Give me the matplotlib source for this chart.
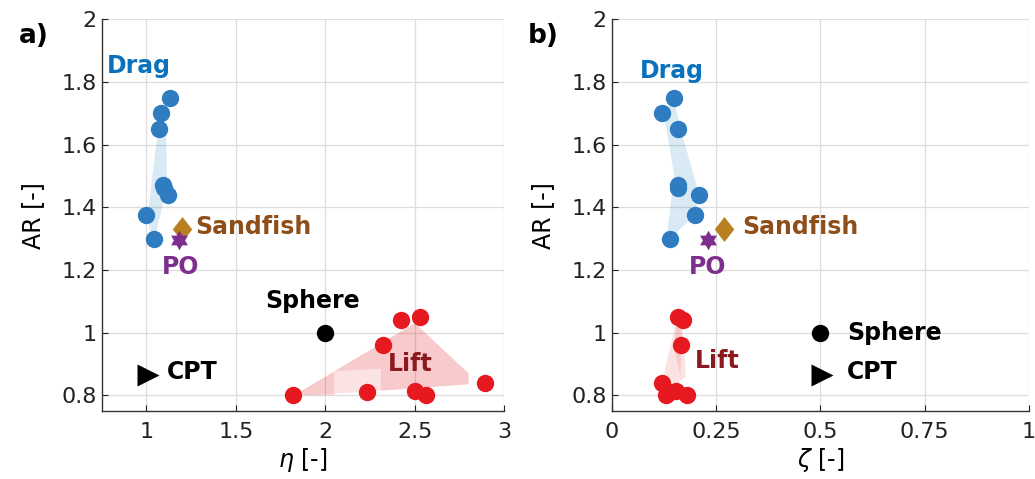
import numpy as np
import matplotlib
matplotlib.use("Agg")
import matplotlib.pyplot as plt
from matplotlib.patches import Polygon

# aspect ratio (shared y)
drag_ar = [1.75, 1.70, 1.65, 1.47, 1.46, 1.44, 1.375, 1.30]
drag_eta = [1.13, 1.08, 1.07, 1.09, 1.10, 1.12, 1.00, 1.04]
drag_zeta = [0.15, 0.12, 0.16, 0.16, 0.16, 0.21, 0.20, 0.14]

lift_ar = [0.80, 0.81, 0.96, 1.04, 1.05, 0.815, 0.80, 0.84]
lift_eta = [1.82, 2.23, 2.32, 2.42, 2.53, 2.50, 2.56, 2.89]
lift_zeta = [0.13, 0.14, 0.165, 0.17, 0.16, 0.155, 0.18, 0.12]

sandfish = {"eta": 1.20, "zeta": 0.27, "ar": 1.33}
po = {"eta": 1.18, "zeta": 0.23, "ar": 1.295}
sphere = {"eta": 2.0, "zeta": 0.5, "ar": 1.0}
cpt = {"eta": 1.01, "zeta": 0.505, "ar": 0.865}

# shaded regions (data coords)
drag_shade_eta = [(1.06, 1.63), (1.11, 1.63), (1.115, 1.48), (1.08, 1.38),
                  (1.05, 1.31), (1.02, 1.31), (1.01, 1.39)]
drag_shade_zeta = [(0.125, 1.70), (0.15, 1.74), (0.165, 1.65), (0.21, 1.44),
                   (0.20, 1.375), (0.14, 1.30), (0.133, 1.32), (0.15, 1.50)]
lift_shade_eta_a = [(1.84, 0.805), (2.50, 1.03), (2.80, 0.87), (2.80, 0.835),
                    (2.32, 0.815), (1.90, 0.80)]
lift_shade_eta_b = [(1.84, 0.805), (2.50, 1.03), (2.80, 0.87), (2.80, 0.835),
                    (2.31, 0.815), (2.31, 0.885), (2.05, 0.877), (2.05, 0.80),
                    (1.90, 0.80)]
lift_shade_zeta_a = [(0.155, 1.035), (0.168, 1.035), (0.178, 0.86),
                     (0.15, 0.83), (0.122, 0.85)]
lift_shade_zeta_b = [(0.155, 1.035), (0.168, 1.035), (0.165, 0.86),
                     (0.15, 0.95)]

yticks = [0.8, 1.0, 1.2, 1.4, 1.6, 1.8, 2.0]
ytick_labels = ["0.8", "1", "1.2", "1.4", "1.6", "1.8", "2"]
eta_ticks = [1, 1.5, 2, 2.5, 3]
eta_labels = ["1", "1.5", "2", "2.5", "3"]
zeta_ticks = [0, 0.25, 0.5, 0.75, 1]
zeta_labels = ["0", "0.25", "0.5", "0.75", "1"]

BLUE = "#2F7DC0"
BLUE_TXT = "#0A72BD"
RED = "#E5191F"
RED_TXT = "#8B1A1E"
SAND = "#B8801F"
SAND_TXT = "#8E4E18"
PURPLE = "#7E2F8E"

diamond = [(0, 1), (0.78, 0), (0, -1), (-0.78, 0), (0, 1)]
ang = np.deg2rad(90 + 30 * np.arange(12))
rad = np.where(np.arange(12) % 2 == 0, 1.0, 0.577)
hexagram = list(zip(rad * np.cos(ang), rad * np.sin(ang)))

fig = plt.figure(figsize=(10.35, 4.79), dpi=100)
ax1 = fig.add_axes([0.0983, 0.142, 0.389, 0.818])
ax2 = fig.add_axes([0.591, 0.142, 0.403, 0.818])


def style(ax, xlim, xt, xl, xlabel):
    ax.set_xlim(*xlim)
    ax.set_ylim(0.75, 2.0)
    ax.set_xticks(xt)
    ax.set_xticklabels(xl)
    ax.set_yticks(yticks)
    ax.set_yticklabels(ytick_labels)
    ax.tick_params(direction="in", length=4, labelsize=16, colors="#222222")
    ax.tick_params(axis="x", pad=8)
    ax.grid(True, color="#dddddd", lw=0.9)
    ax.set_axisbelow(True)
    for s in ["top", "right"]:
        ax.spines[s].set_visible(False)
    for s in ["left", "bottom"]:
        ax.spines[s].set_color("#333333")
        ax.spines[s].set_linewidth(1.0)
    ax.set_ylabel("AR [-]", fontsize=17, labelpad=12)
    ax.set_xlabel(xlabel, fontsize=17, labelpad=3)


def draw(ax, key, drag_x, lift_x, dshade, lshade_a, lshade_b):
    ax.add_patch(Polygon(dshade, closed=True, fc="#0072BD", alpha=0.15, ec="none", zorder=1))
    ax.add_patch(Polygon(lshade_a, closed=True, fc=RED, alpha=0.12, ec="none", zorder=1))
    ax.add_patch(Polygon(lshade_b, closed=True, fc=RED, alpha=0.12, ec="none", zorder=1))
    ax.plot(drag_x, drag_ar, "o", ms=12.5, color=BLUE, mec="none", zorder=3)
    ax.plot(lift_x, lift_ar, "o", ms=12.5, color=RED, mec="none", zorder=3)
    ax.plot(sandfish[key], sandfish["ar"], marker=diamond, ms=18, color=SAND, mec="none", zorder=4)
    ax.plot(po[key], po["ar"], marker=hexagram, ms=14, color=PURPLE, mec="none", zorder=5)
    ax.plot(sphere[key], sphere["ar"], "o", ms=12.5, color="black", mec="none", zorder=4)
    ax.plot(cpt[key], cpt["ar"], ">", ms=16, color="black", mec="none", zorder=4)


style(ax1, (0.75, 3.0), eta_ticks, eta_labels, r"$\eta$ [-]")
style(ax2, (0.0, 1.0), zeta_ticks, zeta_labels, r"$\zeta$ [-]")

draw(ax1, "eta", drag_eta, lift_eta, drag_shade_eta, lift_shade_eta_a, lift_shade_eta_b)
draw(ax2, "zeta", drag_zeta, lift_zeta, drag_shade_zeta, lift_shade_zeta_a, lift_shade_zeta_b)

fs = 17
kw = dict(fontsize=fs, fontweight="bold", va="center", zorder=6)
ax1.text(0.78, 1.85, "Drag", color=BLUE_TXT, ha="left", **kw)
ax1.text(1.27, 1.337, "Sandfish", color=SAND_TXT, ha="left", **kw)
ax1.text(1.19, 1.21, "PO", color=PURPLE, ha="center", **kw)
ax1.text(1.93, 1.10, "Sphere", color="black", ha="center", **kw)
ax1.text(1.115, 0.873, "CPT", color="black", ha="left", **kw)
ax1.text(2.475, 0.899, "Lift", color=RED_TXT, ha="center", **kw)

ax2.text(0.067, 1.835, "Drag", color=BLUE_TXT, ha="left", **kw)
ax2.text(0.312, 1.337, "Sandfish", color=SAND_TXT, ha="left", **kw)
ax2.text(0.23, 1.21, "PO", color=PURPLE, ha="center", **kw)
ax2.text(0.564, 1.0, "Sphere", color="black", ha="left", **kw)
ax2.text(0.564, 0.873, "CPT", color="black", ha="left", **kw)
ax2.text(0.20, 0.908, "Lift", color=RED_TXT, ha="left", **kw)

fig.text(0.018, 0.925, "a)", fontsize=19, fontweight="bold", va="center")
fig.text(0.510, 0.925, "b)", fontsize=19, fontweight="bold", va="center")

fig.savefig("out.png", dpi=100)
